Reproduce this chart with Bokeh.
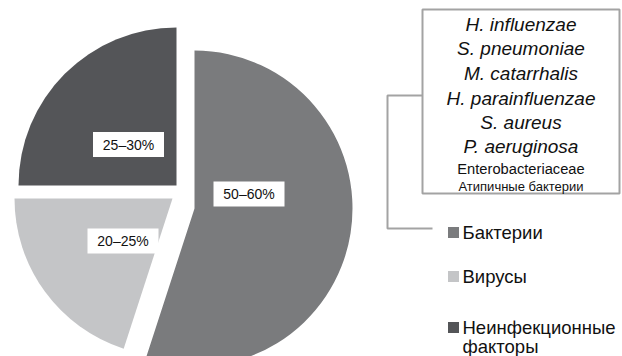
import math
from bokeh.plotting import figure
from bokeh.models import ColumnDataSource, Range1d
from bokeh.core.properties import value
from bokeh.embed import file_html
from bokeh.resources import INLINE

# ---------------- data ----------------
categories = ["Бактерии", "Вирусы", "Неинфекционные факторы"]
shares = [55, 20, 25]
range_labels = ["50–60%", "20–25%", "25–30%"]
colors = ["#7a7b7d", "#c4c5c7", "#545558"]
pathogens_italic = ["H. influenzae", "S. pneumoniae", "M. catarrhalis",
                    "H. parainfluenzae", "S. aureus", "P. aeruginosa"]
pathogens_plain = ["Enterobacteriaceae", "Атипичные бактерии"]
legend_lines = [["Бактерии"], ["Вирусы"], ["Неинфекционные", "факторы"]]

# ---------------- layout (pixel positions, y measured from top) ----------------
W, H = 622, 356
FONT = value("Liberation Sans")
def Y(py):
    return H - py

apex = [(194, 208), (172, 198), (176, 185)]
radius_px = 158
label_pos = [(248.5, 193.5), (122.5, 240.5), (128, 144)]

p = figure(width=W, height=H, output_backend="svg", toolbar_location=None,
           x_range=Range1d(0, W), y_range=Range1d(0, H),
           min_border=0, outline_line_color=None, background_fill_color="white")
p.axis.visible = False
p.grid.visible = False

# pie slices (clockwise from 12 o'clock)
total = float(sum(shares))
cum = 0.0
starts, ends = [], []
for s in shares:
    a0 = math.pi / 2 - 2 * math.pi * cum / total
    cum += s
    a1 = math.pi / 2 - 2 * math.pi * cum / total
    starts.append(a0)
    ends.append(a1)

src = ColumnDataSource(dict(
    x=[a[0] for a in apex], y=[Y(a[1]) for a in apex],
    start=starts, end=ends, color=colors))
p.wedge(x="x", y="y", radius=radius_px, radius_units="screen",
        start_angle="start", end_angle="end", direction="clock",
        fill_color="color", line_color=None, source=src)

# percent labels with white boxes
lsrc = ColumnDataSource(dict(
    x=[l[0] for l in label_pos], y=[Y(l[1]) for l in label_pos], text=range_labels))
p.rect(x="x", y="y", width=71, height=25, width_units="screen", height_units="screen",
       fill_color="white", line_color=None, source=lsrc)
p.text(x="x", y="y", text="text", text_font=FONT, text_font_size="14px",
       text_align="center", text_baseline="middle", text_color="#111111", source=lsrc)

# pathogen box
p.quad(left=[422], right=[619], top=[Y(9)], bottom=[Y(193)],
       fill_color=None, line_color="#a3a3a3", line_width=2)
cx = (422 + 619) / 2
ys_it = [24, 48, 73, 98, 122, 146]
p.text(x=[cx] * len(pathogens_italic), y=[Y(v) for v in ys_it], text=pathogens_italic,
       text_font=FONT, text_font_size="19px", text_font_style="italic",
       text_align="center", text_baseline="middle", text_color="#111111")
p.text(x=[cx], y=[Y(168)], text=[pathogens_plain[0]], text_font=FONT,
       text_font_size="14.7px", text_align="center", text_baseline="middle",
       text_color="#111111")
p.text(x=[cx], y=[Y(185.5)], text=[pathogens_plain[1]], text_font=FONT,
       text_font_size="13px", text_align="center", text_baseline="middle",
       text_color="#111111")

# connector
p.line(x=[422, 387, 387, 432], y=[Y(95), Y(95), Y(228), Y(228)],
       line_color="#a3a3a3", line_width=2)

# legend
leg_y = [232, 276, 327]
p.rect(x=[453] * 3, y=[Y(v) for v in leg_y], width=11, height=11,
       width_units="screen", height_units="screen", fill_color=colors, line_color=None)
for lines, yy in zip(legend_lines, leg_y):
    for i, t in enumerate(lines):
        p.text(x=[462], y=[Y(yy + i * 19)], text=[t], text_font=FONT,
               text_font_size="18.5px", text_align="left", text_baseline="middle",
               text_color="#111111")

open("out.html", "w").write(file_html(p, INLINE))
